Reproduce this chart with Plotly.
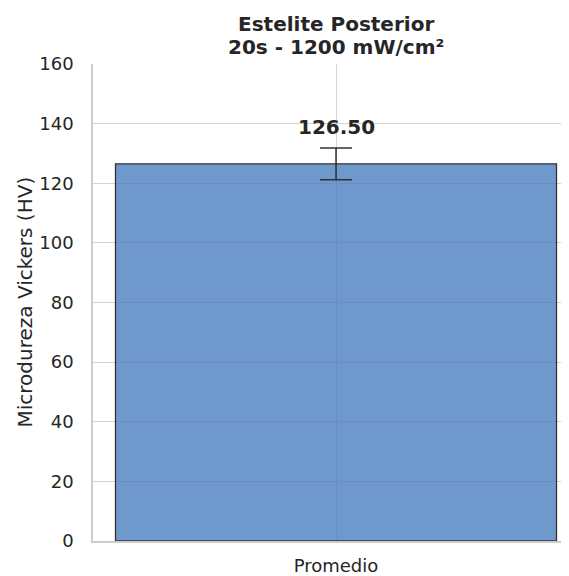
import plotly.graph_objects as go

categories = ["Promedio"]
means = [126.5]
stds = [5.3]
value_labels = ["126.50"]
title_lines = ["Estelite Posterior", "20s - 1200 mW/cm²"]
y_label = "Microdureza Vickers (HV)"
y_ticks = [0, 20, 40, 60, 80, 100, 120, 140, 160]

OFF = 8  # page body margin
W, H = 569 - OFF, 576 - OFF
L, R, T = 93 - OFF, 0, 64 - OFF
B = H - (544 - OFF)
CX = 336 - OFF
plot_w = W - L - R
plot_h = H - T - B
unit_px = 2 * (CX - L)  # pixels per category unit

text_col = "#262626"
font = "DejaVu Sans"

fig = go.Figure()
fig.add_trace(go.Bar(
    x=categories, y=means,
    width=441 / unit_px,
    marker=dict(color="#4c7fc0", line=dict(color="black", width=1.3)),
    opacity=0.8,
    error_y=dict(type="data", array=stds, visible=True, color="black",
                 thickness=1.5, width=16),
    hoverinfo="skip",
))

for c, m, s, lab in zip(categories, means, stds, value_labels):
    fig.add_annotation(x=c, y=m + s + 7.2, text=f"<b>{lab}</b>", showarrow=False,
                       xanchor="center", yanchor="middle",
                       font=dict(family=font, size=20, color=text_col))

# title lines
fig.add_annotation(xref="paper", yref="paper", x=(CX - L) / plot_w, y=(H - B - (24 - OFF)) / plot_h,
                   text=f"<b>{title_lines[0]}</b>", showarrow=False, xanchor="center", yanchor="middle",
                   font=dict(family=font, size=20, color=text_col))
fig.add_annotation(xref="paper", yref="paper", x=(CX - L) / plot_w, y=(H - B - (47 - OFF)) / plot_h,
                   text=f"<b>{title_lines[1]}</b>", showarrow=False, xanchor="center", yanchor="middle",
                   font=dict(family=font, size=20, color=text_col))
# y label
fig.add_annotation(xref="paper", yref="paper", x=((24 - OFF) - L) / plot_w, y=0.5,
                   text=y_label, showarrow=False, textangle=-90, xanchor="center", yanchor="middle",
                   font=dict(family=font, size=20, color=text_col))

right_units = (W - R - CX) / unit_px
fig.update_layout(
    width=W, height=H,
    margin=dict(l=L, r=R, t=T, b=B, pad=0),
    paper_bgcolor="white", plot_bgcolor="white",
    showlegend=False,
    font=dict(family=font, size=18, color=text_col),
    xaxis=dict(range=[-0.5, right_units], showgrid=True, gridcolor="#d4d4d4", gridwidth=1,
               showline=True, linecolor="#cccccc", linewidth=1.6, zeroline=False,
               ticks="", ticklabelstandoff=8, tickfont=dict(size=18, color=text_col)),
    yaxis=dict(range=[0, 160], tickvals=y_ticks, showgrid=True, gridcolor="#d4d4d4", gridwidth=1,
               showline=True, linecolor="#cccccc", linewidth=1.6, zeroline=False,
               ticks="", ticklabelstandoff=14, tickfont=dict(size=18, color=text_col)),
)

fig.write_html("out.html")
